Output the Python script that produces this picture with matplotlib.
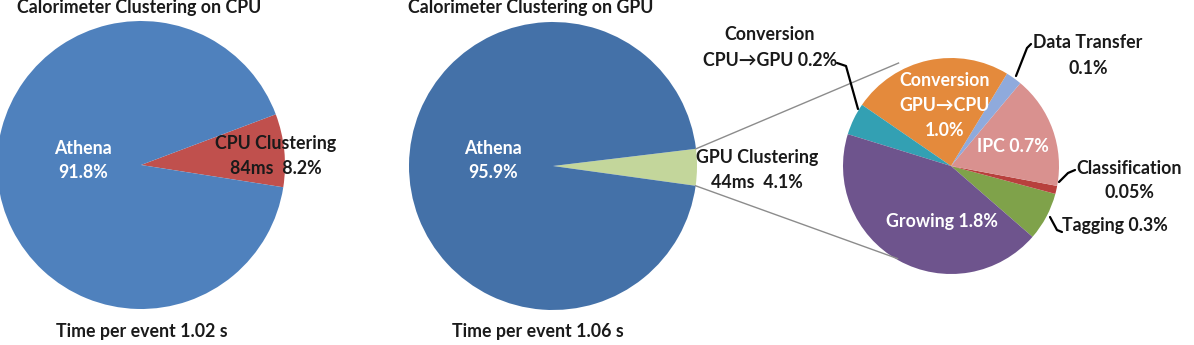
import matplotlib
matplotlib.use("Agg")
import matplotlib.pyplot as plt
import numpy as np

# ---------------- data ----------------
cpu_labels = ["CPU Clustering", "Athena"]
cpu_values = [8.2, 91.8]
cpu_texts = ["CPU Clustering\n84ms  8.2%", "Athena\n91.8%"]

gpu_labels = ["GPU Clustering", "Athena"]
gpu_values = [4.1, 95.9]
gpu_texts = ["GPU Clustering\n44ms  4.1%", "Athena\n95.9%"]

sub_labels = ["Tagging", "Classification", "IPC", "Data Transfer",
              "Conversion GPU\u2192CPU", "Conversion CPU\u2192GPU", "Growing"]
sub_values = [0.3, 0.05, 0.7, 0.1, 1.0, 0.2, 1.8]
sub_texts = ["Tagging 0.3%", "Classification\n0.05%", "IPC 0.7%",
             "Data Transfer\n0.1%", "Conversion\nGPU\u2192CPU\n1.0%",
             "Conversion\nCPU\u2192GPU 0.2%", "Growing 1.8%"]

titles = ["Calorimeter Clustering on CPU", "Calorimeter Clustering on GPU"]
footers = ["Time per event 1.02 s", "Time per event 1.06 s"]

# ---------------- style ----------------
FONT = ["Lato", "DejaVu Sans"]
FS = 12.8
W, H = 1194, 345

cpu_colors = ["#C0504D", "#4F81BD"]
gpu_colors = ["#C3D69B", "#4471A8"]
sub_colors = ["#7FA24A", "#B8403D", "#D9918F", "#8FAADC",
              "#E48A3C", "#33A0B3", "#6E548D"]

fig = plt.figure(figsize=(W / 100, H / 100), dpi=100)
ax = fig.add_axes([0, 0, 1, 1])


def Y(y):
    return H - y


wp = dict(linewidth=0)
c1, r1 = (141, Y(165)), 144
c2, r2 = (553, Y(166)), 144
c3, r3 = (951, Y(166)), 108

w1, _ = ax.pie(cpu_values, colors=cpu_colors, startangle=-8.9, center=c1,
               radius=r1, wedgeprops=wp)
w2, _ = ax.pie(gpu_values, colors=gpu_colors, startangle=-7.9, center=c2,
               radius=r2, wedgeprops=wp)
w3, _ = ax.pie(sub_values, colors=sub_colors, startangle=-41, center=c3,
               radius=r3, wedgeprops=wp)

ax.set_xlim(0, W)
ax.set_ylim(0, H)
ax.set_aspect("equal")
ax.axis("off")


def pt(c, r, ang):
    a = np.deg2rad(ang)
    return c[0] + r * np.cos(a), c[1] + r * np.sin(a)


# connector lines from GPU clustering wedge to the breakdown pie
g = w2[0]
p_up = pt(c2, r2, g.theta2)
p_lo = pt(c2, r2, g.theta1)
q_up = pt(c3, r3 * 1.07, 117)
q_lo = pt(c3, r3 * 0.99, 240)
ax.plot([p_up[0], q_up[0]], [p_up[1], q_up[1]], color="#8C8C8C", lw=1.0)
ax.plot([p_lo[0], q_lo[0]], [p_lo[1], q_lo[1]], color="#8C8C8C", lw=1.0)


def label(x, y, txt, color="#1A1A1A", gap=25):
    lines = txt.split("\n")
    for i, ln in enumerate(lines):
        ax.text(x, Y(y + i * gap), ln, ha="center", va="center",
                fontsize=FS, fontweight="bold", color=color, family=FONT)


# titles and footers
ax.text(17, Y(7), titles[0], ha="left", va="center", fontsize=FS,
        fontweight="bold", color="#1A1A1A", family=FONT)
ax.text(408, Y(7), titles[1], ha="left", va="center", fontsize=FS,
        fontweight="bold", color="#1A1A1A", family=FONT)
label(142, 332, footers[0])
label(538, 332, footers[1])

# CPU pie labels
label(276, 143, cpu_texts[0])
label(83, 148, cpu_texts[1], color="white")
# GPU pie labels
label(757, 158, gpu_texts[0])
label(493, 148, gpu_texts[1], color="white")

# breakdown labels
label(1115, 226, sub_texts[0])
label(1129, 168, sub_texts[1])
label(1013, 146, sub_texts[2], color="white")
label(1088, 43, sub_texts[3])
label(945, 81, sub_texts[4], color="white", gap=24.5)
label(770, 35, sub_texts[5])
label(942, 222, sub_texts[6], color="white")

# leader lines
lk = dict(color="black", lw=1.6, solid_capstyle="round")
ax.plot([837, 846, 858], [Y(63), Y(66), Y(109)], **lk)
ax.plot([1031, 1027, 1016], [Y(44), Y(48), Y(76)], **lk)
ax.plot([1075, 1068, 1059], [Y(170), Y(173), Y(182)], **lk)
ax.plot([1062, 1057, 1050], [Y(232), Y(230), Y(217)], **lk)

fig.savefig("out.png", dpi=100, facecolor="white")
